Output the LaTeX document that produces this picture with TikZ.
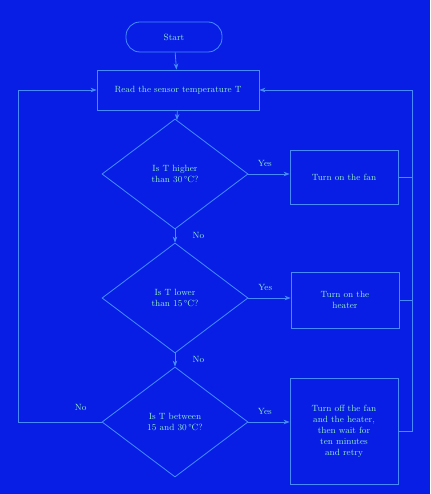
\documentclass[tikz,border=0pt]{standalone}
\usetikzlibrary{shapes.geometric,arrows.meta}
\definecolor{bg}{RGB}{8,30,228}
\definecolor{ln}{RGB}{70,140,255}
\definecolor{tx}{RGB}{150,235,200}
\tikzset{
  every node/.style={font=\small, text=tx},
  term/.style={draw=ln, line width=0.8pt, rounded corners=14pt, minimum width=96pt, minimum height=30pt},
  proc/.style={draw=ln, line width=0.8pt, minimum width=162pt, minimum height=40pt},
  dec/.style={draw=ln, line width=0.8pt, shape=diamond, minimum width=146pt, minimum height=110pt, align=center, inner sep=0pt},
  act/.style={draw=ln, line width=0.8pt, minimum width=108pt, align=center},
  conn/.style={draw=ln, line width=0.8pt, -{Stealth[length=6pt]}},
  lbl/.style={font=\small}
}
\begin{document}
\begin{tikzpicture}[x=1pt,y=-1pt]
\fill[bg] (0,0) rectangle (430,494);
\useasboundingbox (0,0) rectangle (430,494);
\node[term] (start) at (174,37) {Start};
\node[proc] (read) at (178,90) {Read the sensor temperature T};
\node[dec] (d1) at (175,174) {Is T higher\\than 30\,°C?};
\node[dec] (d2) at (175,298) {Is T lower\\than 15\,°C?};
\node[dec] (d3) at (175,422) {Is T between\\15 and 30\,°C?};
\node[act, minimum height=54pt] (b1) at (344,177) {Turn on the fan};
\node[act, minimum height=56pt] (b2) at (345,300) {Turn on the\\heater};
\node[act, minimum height=106pt] (b3) at (344,431) {Turn off the fan\\and the heater,\\then wait for\\ten minutes\\and retry};
\coordinate (rtop) at (412,90);
\coordinate (ltop) at (18,90);
\coordinate (lbot) at (18,422);
\draw[conn] (start) -- (read);
\draw[conn] (read) -- (d1);
\draw[conn] (d1) -- node[lbl, right, pos=0.45, xshift=14pt] {No} (d2);
\draw[conn] (d2) -- node[lbl, right, pos=0.45, xshift=14pt] {No} (d3);
\draw[conn] (d1.east) -- node[lbl, above, pos=0.4, yshift=4pt] {Yes} (b1.west |- d1.east);
\draw[conn] (d2.east) -- node[lbl, above, pos=0.4, yshift=4pt] {Yes} (b2.west |- d2.east);
\draw[conn] (d3.east) -- node[lbl, above, pos=0.4, yshift=4pt] {Yes} (b3.west |- d3.east);
\draw[ln, line width=0.8pt] (b1.east) -- (b1.east -| rtop);
\draw[ln, line width=0.8pt] (b2.east) -- (b2.east -| rtop);
\draw[conn] (b3.east) -- (b3.east -| rtop) -- (rtop) -- (read.east);
\draw[conn] (d3.west) -- node[lbl, above, pos=0.25, yshift=8pt] {No} (lbot) -- (ltop) -- (read.west);
\end{tikzpicture}
\end{document}
